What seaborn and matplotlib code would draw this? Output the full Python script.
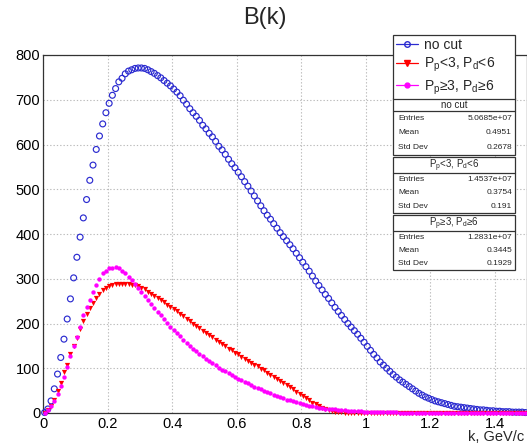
import numpy as np
import pandas as pd
import matplotlib
matplotlib.use("Agg")
import matplotlib.pyplot as plt
from matplotlib.lines import Line2D
from matplotlib.patches import Rectangle
import seaborn as sns

# Histogram binning: 150 bins of 0.01 GeV/c from 0 to 1.5
bin_width = 0.01
k_centers = np.round(np.arange(150) * bin_width + bin_width / 2, 3)

no_cut = [
    1, 9, 27, 54, 87, 124, 165, 210, 255, 302,
    348, 393, 436, 477, 520, 554, 589, 619, 646, 671,
    692, 710, 725, 740, 748, 758, 764, 767, 770, 771,
    771, 770, 767, 763, 759, 754, 749, 743, 737, 731,
    724, 717, 709, 699, 690, 680, 671, 663, 654, 643,
    635, 625, 617, 607, 596, 588, 578, 567, 557, 548,
    538, 528, 517, 507, 496, 485, 474, 463, 452, 442,
    433, 423, 413, 403, 394, 385, 376, 367, 357, 347,
    337, 327, 317, 306, 295, 285, 275, 265, 256, 246,
    236, 227, 218, 209, 200, 192, 184, 176, 167, 158,
    149, 140, 131, 123, 114, 107, 100, 93, 86, 80,
    74, 69, 64, 59, 54, 49, 44, 40, 36, 33,
    30, 27, 25, 23, 21, 19, 17, 15, 14, 13,
    12, 11, 10, 9, 8, 7, 7, 6, 5, 5,
    4, 4, 3, 3, 3, 2, 2, 2, 2, 1,
]

low_p = [
    1, 7, 15, 28, 49, 67, 91, 108, 131, 150,
    168, 187, 205, 222, 235, 246, 257, 267, 275, 280,
    284, 287, 288, 289, 289, 289, 288, 287, 286, 283,
    280, 276, 271, 267, 262, 257, 252, 247, 242, 237,
    232, 227, 222, 216, 211, 205, 200, 195, 189, 184,
    179, 174, 169, 164, 159, 154, 149, 144, 140, 135,
    131, 126, 121, 117, 112, 108, 104, 99, 95, 90,
    86, 81, 77, 72, 68, 63, 58, 54, 48, 43,
    38, 33, 28, 23, 19, 15, 11, 8, 6, 4,
    3, 2, 2, 1, 1, 1, 1, 1, 1, 1,
    1, 1, 1, 1, 1, 1, 1, 1, 1, 1,
    0, 0, 0, 0, 0, 0, 0, 0, 0, 0,
    0, 0, 0, 0, 0, 0, 0, 0, 0, 0,
    0, 0, 0, 0, 0, 0, 0, 0, 0, 0,
    0, 0, 0, 0, 0, 0, 0, 0, 0, 0,
]

high_p = [
    1, 7, 15, 26, 43, 60, 81, 102, 127, 149,
    170, 192, 218, 237, 252, 271, 286, 300, 312, 318,
    323, 325, 326, 323, 317, 312, 305, 297, 289, 280,
    271, 262, 252, 243, 234, 226, 218, 210, 201, 192,
    185, 178, 172, 164, 157, 150, 144, 138, 132, 127,
    121, 116, 111, 107, 101, 97, 93, 89, 85, 81,
    77, 73, 70, 66, 63, 59, 56, 53, 50, 47,
    44, 41, 38, 36, 33, 30, 28, 26, 24, 22,
    20, 18, 16, 15, 14, 12, 11, 10, 9, 8,
    8, 7, 6, 6, 5, 5, 4, 4, 4, 3,
    3, 3, 3, 2, 2, 2, 2, 2, 2, 2,
    1, 1, 1, 1, 1, 1, 1, 1, 1, 1,
    1, 1, 1, 1, 1, 1, 1, 1, 1, 1,
    1, 1, 1, 1, 1, 1, 1, 1, 1, 1,
    1, 1, 1, 1, 1, 1, 1, 1, 1, 1,
]

series_names = ["no cut", "low", "high"]
legend_labels = [
    "no cut",
    r"P$_\mathregular{p}$<3, P$_\mathregular{d}$<6",
    r"P$_\mathregular{p}$≥3, P$_\mathregular{d}$≥6",
]
stat_entries = ["5.0685e+07", "1.4537e+07", "1.2831e+07"]
stat_means = ["0.4951", "0.3754", "0.3445"]
stat_stds = ["0.2678", "0.191", "0.1929"]

colors = {"no cut": "#2b2bd0", "low": "#ff0000", "high": "#ff00ff"}

df = pd.DataFrame({
    "k": np.tile(k_centers, 3),
    "B": np.concatenate([no_cut, low_p, high_p]),
    "series": np.repeat(series_names, 150),
})

sns.set_theme(style="white")
plt.rcParams["font.family"] = ["Liberation Sans", "DejaVu Sans"]
plt.rcParams["mathtext.fontset"] = "custom"
plt.rcParams["mathtext.rm"] = "Liberation Sans"

W, H = 527, 446
fig = plt.figure(figsize=(W / 100, H / 100), dpi=100)
fig.patch.set_facecolor("white")


def fx(x):
    return x / W


def fy(y):
    return 1 - y / H


ax = fig.add_axes([fx(43), fy(413), fx(527) - fx(43), fy(55) - fy(413)])
ax.set_facecolor("white")

sns.scatterplot(data=df[df.series == "no cut"], x="k", y="B", ax=ax,
                marker="o", s=18, facecolor="none",
                edgecolor=colors["no cut"], linewidth=0.85, legend=False,
                zorder=3, clip_on=False)
sns.scatterplot(data=df[df.series == "low"], x="k", y="B", ax=ax,
                marker="v", s=14, color=colors["low"],
                edgecolor=colors["low"], linewidth=0, legend=False,
                zorder=4, clip_on=False)
sns.scatterplot(data=df[df.series == "high"], x="k", y="B", ax=ax,
                marker="o", s=10, color=colors["high"],
                edgecolor=colors["high"], linewidth=0, legend=False,
                zorder=5, clip_on=False)

ax.set_xlim(0, 1.5)
ax.set_ylim(0, 800)
ax.set_xticks(np.arange(0, 1.5, 0.2))
ax.set_xticklabels(["0", "0.2", "0.4", "0.6", "0.8", "1", "1.2", "1.4"])
ax.set_xticks(np.arange(0, 1.5001, 0.05), minor=True)
ax.set_yticks(np.arange(0, 801, 100))
ax.set_yticks(np.arange(0, 801, 20), minor=True)
ax.tick_params(axis="both", which="major", direction="in", length=9,
               width=0.8, color="#555555", labelsize=10.5, labelcolor="black")
ax.tick_params(axis="both", which="minor", direction="in", length=4.5,
               width=0.8, color="#555555")
ax.tick_params(axis="x", which="major", pad=3)
ax.tick_params(axis="y", which="major", pad=2)
ax.grid(True, which="major", color="#bbbbbb", linestyle=(0, (1.2, 1.8)),
        linewidth=0.8)
ax.set_axisbelow(True)
for side in ["left", "bottom", "top", "right"]:
    ax.spines[side].set_visible(True)
    ax.spines[side].set_color("#333333")
    ax.spines[side].set_linewidth(0.9)
ax.set_xlabel("")
ax.set_ylabel("")

fig.text(fx(265), fy(18), "B(k)", ha="center", va="center", fontsize=17)
fig.text(fx(524), fy(437), "k, GeV/c", ha="right", va="center", fontsize=10.5)

# Legend
handles = [
    Line2D([0], [0], color=colors["no cut"], marker="o", mfc="none",
           mec=colors["no cut"], ms=4, lw=0.9),
    Line2D([0], [0], color=colors["low"], marker="v", ms=4, lw=0.9),
    Line2D([0], [0], color=colors["high"], marker="o", ms=3.5, lw=0.9),
]
leg = fig.legend(handles, legend_labels, loc="upper left",
                 bbox_to_anchor=(fx(393), fy(98), fx(515) - fx(393),
                                 fy(35) - fy(98)),
                 mode="expand", fontsize=10, frameon=True, fancybox=False,
                 edgecolor="#333333", framealpha=1, borderpad=0.2,
                 labelspacing=0.3, handlelength=1.6, handletextpad=0.4,
                 borderaxespad=0)
leg.get_frame().set_linewidth(0.9)
leg.set_zorder(20)

# Statistics boxes
boxes = [(98, 111, 155), (157, 173, 213), (215, 231, 270)]
for i, (top, tline, bottom) in enumerate(boxes):
    fig.add_artist(Rectangle((fx(393), fy(bottom)), fx(515) - fx(393),
                             fy(top) - fy(bottom), transform=fig.transFigure,
                             facecolor="white", edgecolor="#333333",
                             linewidth=0.9, zorder=10))
    fig.add_artist(Line2D([fx(393), fx(515)], [fy(tline), fy(tline)],
                          transform=fig.transFigure, color="#333333",
                          linewidth=0.9, zorder=11))
    fig.text(fx(454), fy((top + tline) / 2 + 0.5), legend_labels[i],
             ha="center", va="center", fontsize=7, zorder=12)
    rows = [("Entries", stat_entries[i]), ("Mean", stat_means[i]),
            ("Std Dev", stat_stds[i])]
    h = (bottom - tline) / 3
    for j, (name, val) in enumerate(rows):
        yy = tline + h * (j + 0.5)
        fig.text(fx(398), fy(yy), name, ha="left", va="center",
                 fontsize=6, zorder=12)
        fig.text(fx(512), fy(yy), val, ha="right", va="center",
                 fontsize=6, zorder=12)

fig.savefig("out.png", dpi=100)
